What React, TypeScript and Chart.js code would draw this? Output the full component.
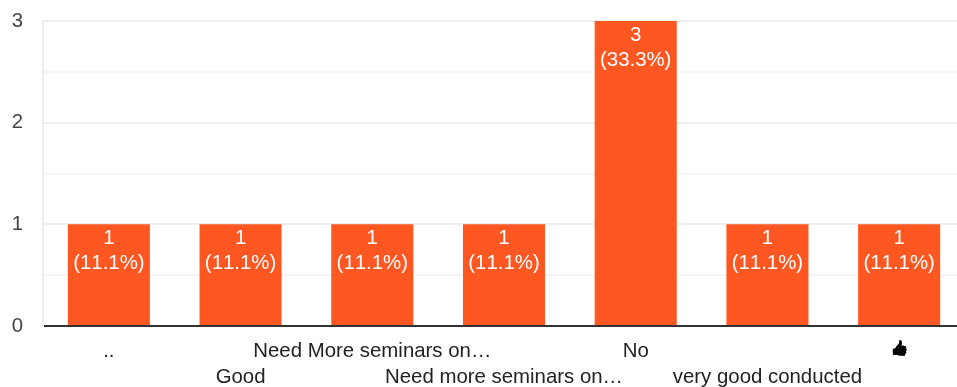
import React, { useEffect, useRef } from "react";
import { Chart, registerables } from "chart.js";

Chart.register(...registerables);

const categories = [
  "..",
  "Good",
  "Need More seminars on…",
  "Need more seminars on…",
  "No",
  "very good conducted",
  "👍",
];
const counts = [1, 1, 1, 1, 3, 1, 1];
const percents = ["(11.1%)", "(11.1%)", "(11.1%)", "(11.1%)", "(33.3%)", "(11.1%)", "(11.1%)"];
const FONT = "Arial, 'Liberation Sans', 'DejaVu Sans', sans-serif";
const EMOJI_INDEX = 6;

const barLabels = {
  id: "barLabels",
  beforeDraw(chart: any) {
    chart.ctx.fontKerning = "none";
  },
  afterDatasetsDraw(chart: any) {
    const { ctx } = chart;
    const els = chart.getDatasetMeta(0).data;
    ctx.save();
    ctx.fillStyle = "#ffffff";
    ctx.font = `20.4px ${FONT}`;
    ctx.textAlign = "center";
    ctx.textBaseline = "middle";
    els.forEach((el: any, i: number) => {
      ctx.fillText(String(counts[i]), el.x, el.y + 14);
      ctx.fillText(percents[i], el.x, el.y + 39);
    });
    ctx.restore();
  },
  afterDraw(chart: any) {
    const { ctx } = chart;
    ctx.save();
    ctx.filter = "brightness(0)";
    ctx.font = `15px ${FONT}`;
    ctx.textAlign = "center";
    ctx.textBaseline = "middle";
    ctx.fillText(categories[EMOJI_INDEX], chart.scales.x.getPixelForTick(EMOJI_INDEX), 349);
    ctx.restore();
  },
};

export default function App() {
  const ref = useRef<HTMLCanvasElement>(null);
  useEffect(() => {
    const chart = new Chart(ref.current!, {
      type: "bar",
      data: {
        labels: categories,
        datasets: [
          {
            data: counts,
            backgroundColor: "#ff5722",
            barPercentage: 0.623,
            categoryPercentage: 1,
          },
        ],
      },
      plugins: [barLabels],
      options: {
        animation: false,
        responsive: false,
        layout: { padding: { top: 21, left: 0, right: 0, bottom: 0 } },
        plugins: { legend: { display: false }, tooltip: { enabled: false } },
        scales: {
          x: {
            afterFit(s: any) {
              s.height = 61;
              s.paddingTop = 0;
            },
            grid: { display: false, drawTicks: false },
            border: { display: false },
            ticks: {
              autoSkip: false,
              maxRotation: 0,
              minRotation: 0,
              padding: 12,
              color: "#222222",
              font: { family: FONT, size: 20.4, lineHeight: 1.275 },
              callback(_v: any, i: number) {
                if (i === EMOJI_INDEX) return ["", ""];
                return i % 2 === 0 ? [categories[i], ""] : ["", categories[i]];
              },
            },
          },
          y: {
            min: 0,
            max: 3,
            afterFit(s: any) {
              s.width = 43;
              s.paddingTop = 0;
              s.paddingBottom = 0;
            },
            grid: {
              drawTicks: false,
              color(c: any) {
                if (c.tick.value === 0) return "#333333";
                return Number.isInteger(c.tick.value) ? "#eeeeee" : "#f5f5f5";
              },
              lineWidth: 2,
            },
            border: { display: true, color: "#eeeeee", width: 2 },
            ticks: {
              stepSize: 0.5,
              padding: 20,
              color: "#444444",
              font: { family: FONT, size: 20.4 },
              callback(v: any) {
                return Number.isInteger(v) ? String(v) : "";
              },
            },
          },
        },
      },
    } as any);
    return () => chart.destroy();
  }, []);
  return (
    <div style={{ position: "fixed", left: 0, top: 0, width: 957, height: 387, background: "#fff", overflow: "hidden" }}>
      <canvas ref={ref} width={965} height={387} style={{ display: "block" }} />
    </div>
  );
}
